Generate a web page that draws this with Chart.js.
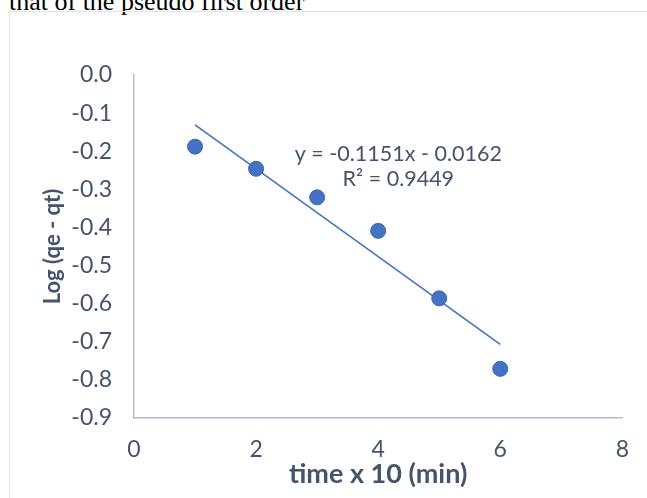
<!DOCTYPE html>
<html>
<head>
<meta charset="utf-8">
<script src="https://cdn.jsdelivr.net/npm/chart.js@4.4.1/dist/chart.umd.min.js"></script>
<style>
  html, body { margin: 0; padding: 0; width: 647px; height: 498px; overflow: hidden; background: #ffffff; }
  #caption { position: absolute; left: 9px; top: -13px; font-family: "Liberation Serif", "Times New Roman", serif; font-size: 26px; color: #000; white-space: nowrap; }
  #frame { position: absolute; left: 9px; top: 11px; width: 700px; height: 600px; border: 1px solid #dfe3ea; box-sizing: border-box; }
  #wrap { position: absolute; left: 0; top: 0; width: 647px; height: 498px; }
</style>
</head>
<body>
<div id="caption">that of the pseudo first order</div>
<div id="frame"></div>
<div id="wrap"><canvas id="c" width="647" height="498"></canvas></div>
<script>
// ---- data ----
const timeValues = [1, 2, 3, 4, 5, 6];
const logValues = [-0.188, -0.246, -0.321, -0.409, -0.586, -0.771];
const trendX = [1, 6];
const trendY = [-0.131, -0.707];
const yTickLabels = ['0.0', '-0.1', '-0.2', '-0.3', '-0.4', '-0.5', '-0.6', '-0.7', '-0.8', '-0.9'];
const xTickLabels = ['0', '2', '4', '6', '8'];
const equationLines = ['y = -0.1151x - 0.0162', 'R\u00b2 = 0.9449'];
const xTitle = 'time x 10 (min)';
const yTitle = 'Log (qe - qt)';

const FONT = 'Lato, "Open Sans", sans-serif';
const tickColor = '#46536a';
const titleColor = '#44546a';
const axisColor = '#b4bdcd';
const markColor = '#4472c4';

const points = timeValues.map((t, i) => ({ x: t, y: logValues[i] }));
const trend = trendX.map((t, i) => ({ x: t, y: trendY[i] }));

const equationPlugin = {
  id: 'equation',
  afterDatasetsDraw(chart, args, opts) {
    const { ctx, scales } = chart;
    ctx.save();
    ctx.font = opts.font;
    ctx.fillStyle = opts.color;
    ctx.textAlign = 'center';
    ctx.textBaseline = 'middle';
    opts.lines.forEach((line, i) => {
      const px = scales.x.getPixelForValue(opts.x);
      const py = scales.y.getPixelForValue(opts.ys[i]);
      ctx.fillText(line, px, py);
    });
    ctx.restore();
  }
};

new Chart(document.getElementById('c'), {
  type: 'scatter',
  data: {
    datasets: [
      {
        label: 'Log (qe - qt)',
        data: points,
        backgroundColor: markColor,
        borderColor: '#3d66b0',
        borderWidth: 1,
        pointRadius: 7.5,
        pointHoverRadius: 7.5,
        order: 1
      },
      {
        type: 'line',
        label: 'Linear',
        data: trend,
        borderColor: markColor,
        borderWidth: 1.6,
        pointRadius: 0,
        fill: false,
        order: 2
      }
    ]
  },
  options: {
    responsive: false,
    animation: false,
    events: [],
    layout: { padding: { left: 0, right: 21, top: 75, bottom: 0 } },
    plugins: {
      legend: { display: false },
      tooltip: { enabled: false },
      equation: {
        lines: equationLines,
        x: 4.33,
        ys: [-0.208, -0.272],
        font: '21.5px ' + FONT,
        color: tickColor
      }
    },
    scales: {
      x: {
        type: 'linear',
        min: 0, max: 8,
        afterBuildTicks(scale) { scale.ticks = xTickLabels.map(v => ({ value: Number(v) })); },
        afterFit(scale) { scale.height = 80; },
        grid: { display: false, drawTicks: false },
        border: { display: true, color: axisColor, width: 1.5 },
        ticks: {
          padding: 18,
          color: tickColor,
          font: { family: FONT, size: 23 },
          callback: (v) => xTickLabels[xTickLabels.indexOf(String(v))]
        },
        title: {
          display: true,
          text: xTitle,
          color: titleColor,
          font: { family: FONT, size: 27, weight: 'bold' },
          padding: { top: 0, bottom: 8 }
        }
      },
      y: {
        type: 'linear',
        min: -0.9, max: 0,
        afterBuildTicks(scale) { scale.ticks = yTickLabels.map(v => ({ value: Number(v) })); },
        afterFit(scale) { scale.width = 134; },
        grid: { display: false, drawTicks: false },
        border: { display: true, color: axisColor, width: 1.5 },
        ticks: {
          padding: 22,
          color: tickColor,
          font: { family: FONT, size: 23 },
          callback: (v) => yTickLabels.find(l => Number(l) === v)
        },
        title: {
          display: true,
          text: yTitle,
          color: titleColor,
          font: { family: FONT, size: 22, weight: 'bold' },
          padding: { top: 40, bottom: 0 }
        }
      }
    }
  },
  plugins: [equationPlugin]
});
</script>
</body>
</html>
